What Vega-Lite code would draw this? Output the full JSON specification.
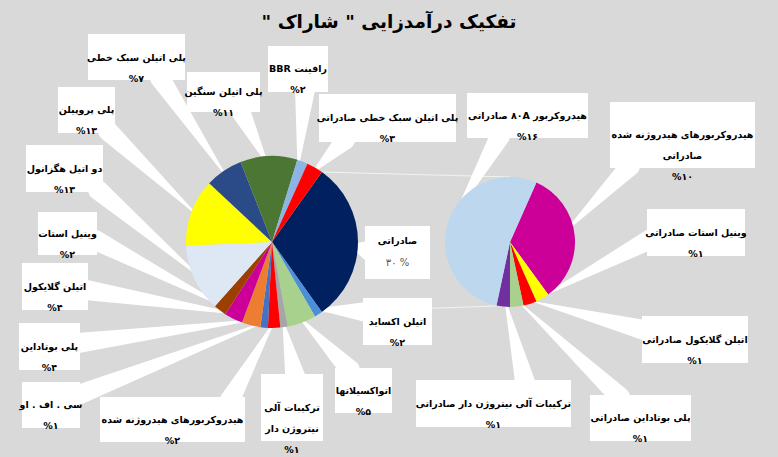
{
  "$schema": "https://vega.github.io/schema/vega-lite/v6.json",
  "width": 778,
  "height": 457,
  "padding": 0,
  "autosize": {"type": "none"},
  "background": "#d9d9d9",
  "config": {"view": {"stroke": null}},
  "title": {
    "text": "\u200fتفکیک درآمدزایی \" شاراک \"\u200f",
    "frame": "group",
    "anchor": "middle",
    "offset": -31,
    "font": "DejaVu Sans",
    "fontSize": 18.5,
    "fontWeight": "bold",
    "color": "#000000"
  },
  "datasets": {
    "left": [
      {"pie": "main", "o": 1, "name": "صادراتی", "share": 30.3},
      {"pie": "main", "o": 2, "name": "اتیلن اکساید", "share": 1.5},
      {"pie": "main", "o": 3, "name": "اتواکسیلاتها", "share": 5.4},
      {"pie": "main", "o": 4, "name": "ترکیبات آلی نیتروژن دار", "share": 1.4},
      {"pie": "main", "o": 5, "name": "هیدروکربورهای هیدروژنه شده", "share": 2.3},
      {"pie": "main", "o": 6, "name": "سی . اف . او", "share": 1.4},
      {"pie": "main", "o": 7, "name": "پلی بوتاداین", "share": 3.5},
      {"pie": "main", "o": 8, "name": "اتیلن گلایکول", "share": 3.5},
      {"pie": "main", "o": 9, "name": "وینیل استات", "share": 2.4},
      {"pie": "main", "o": 10, "name": "دو اتیل هگزانول", "share": 12.8},
      {"pie": "main", "o": 11, "name": "پلی پروپیلن", "share": 12.6},
      {"pie": "main", "o": 12, "name": "پلی اتیلن سبک خطی", "share": 7.1},
      {"pie": "main", "o": 13, "name": "پلی اتیلن سنگین", "share": 10.7},
      {"pie": "main", "o": 14, "name": "رافینت BBR", "share": 2.0},
      {"pie": "main", "o": 15, "name": "پلی اتیلن سبک خطی صادراتی", "share": 3.1}
    ],
    "right": [
      {"pie": "sub", "o": 1, "name": "هیدروکربورهای هیدروژنه شده صادراتی", "share": 10},
      {"pie": "sub", "o": 2, "name": "وینیل استات صادراتی", "share": 1},
      {"pie": "sub", "o": 3, "name": "اتیلن گلایکول صادراتی", "share": 1},
      {"pie": "sub", "o": 4, "name": "پلی بوتاداین صادراتی", "share": 1},
      {"pie": "sub", "o": 5, "name": "ترکیبات آلی نیتروژن دار صادراتی", "share": 1},
      {"pie": "sub", "o": 6, "name": "هیدروکربور ۸۰A صادراتی", "share": 16}
    ],
    "callouts": [
      {"id": "a", "lines": ["پلی اتیلن سبک خطی", "%۷"], "x1": 88, "x2": 185, "y1": 34, "y2": 80, "cx": 136.5, "cy": 58},
      {"id": "b", "lines": ["پلی اتیلن سنگین", "%۱۱"], "x1": 187, "x2": 260, "y1": 72, "y2": 112, "cx": 223.5, "cy": 92},
      {"id": "c", "lines": ["BBR رافینت", "%۲"], "x1": 268, "x2": 328, "y1": 46, "y2": 92, "cx": 298, "cy": 69},
      {"id": "d", "lines": ["پلی پروپیلن", "%۱۳"], "x1": 58, "x2": 115, "y1": 87, "y2": 133, "cx": 86.5, "cy": 110},
      {"id": "e", "lines": ["دو اتیل هگزانول", "%۱۳"], "x1": 26, "x2": 103, "y1": 145, "y2": 192, "cx": 64.5, "cy": 168.5},
      {"id": "f", "lines": ["پلی اتیلن سبک خطی صادراتی", "%۳"], "x1": 319, "x2": 456, "y1": 94, "y2": 142, "cx": 387.5, "cy": 118},
      {"id": "g", "lines": ["\u202bهیدروکربور ۸۰A صادراتی\u202c", "%۱۶"], "x1": 467, "x2": 588, "y1": 93, "y2": 138, "cx": 527.5, "cy": 115.5},
      {"id": "h", "lines": ["هیدروکربورهای هیدروژنه شده", "صادراتی", "%۱۰"], "x1": 610, "x2": 755, "y1": 102, "y2": 168, "cx": 682.5, "cy": 135},
      {"id": "i", "lines": ["وینیل استات", "%۲"], "x1": 38, "x2": 97, "y1": 212, "y2": 255, "cx": 67.5, "cy": 233.5},
      {"id": "j", "lines": ["اتیلن گلایکول", "%۴"], "x1": 22, "x2": 88, "y1": 263, "y2": 310, "cx": 55, "cy": 286.5},
      {"id": "k", "lines": ["پلی بوتاداین", "%۴"], "x1": 19, "x2": 80, "y1": 323, "y2": 370, "cx": 49.5, "cy": 346.5},
      {"id": "l", "lines": ["سی . اف . او", "%۱"], "x1": 22, "x2": 80, "y1": 382, "y2": 428, "cx": 51, "cy": 405},
      {"id": "m", "lines": ["هیدروکربورهای هیدروژنه شده", "%۲"], "x1": 100, "x2": 245, "y1": 397, "y2": 442, "cx": 172.5, "cy": 419.5},
      {"id": "n", "lines": ["ترکیبات آلی", "نیتروژن دار", "%۱"], "x1": 261, "x2": 323, "y1": 374, "y2": 441, "cx": 292, "cy": 407.5},
      {"id": "o", "lines": ["اتواکسیلاتها", "%۵"], "x1": 335, "x2": 392, "y1": 368, "y2": 413, "cx": 363.5, "cy": 390.5},
      {"id": "p", "lines": ["اتیلن اکساید", "%۲"], "x1": 363, "x2": 432, "y1": 298, "y2": 345, "cx": 397.5, "cy": 321.5},
      {"id": "q", "lines": ["صادراتی"], "sub": "۳۰ %", "x1": 365, "x2": 430, "y1": 226, "y2": 279, "cx": 397.5, "cy": 241},
      {"id": "r", "lines": ["وینیل استات صادراتی", "%۱"], "x1": 647, "x2": 745, "y1": 209, "y2": 256, "cx": 696, "cy": 232.5},
      {"id": "s", "lines": ["اتیلن گلایکول صادراتی", "%۱"], "x1": 642, "x2": 748, "y1": 316, "y2": 363, "cx": 695, "cy": 339.5},
      {"id": "t", "lines": ["ترکیبات آلی نیتروژن دار صادراتی", "%۱"], "x1": 416, "x2": 571, "y1": 380, "y2": 427, "cx": 493.5, "cy": 403.5},
      {"id": "u", "lines": ["پلی بوتاداین صادراتی", "%۱"], "x1": 590, "x2": 691, "y1": 395, "y2": 441, "cx": 640.5, "cy": 418}
    ],
    "wedges": [
      {"id": "a", "end": "base", "x": 160, "y": 78}, {"id": "a", "end": "tip", "x": 226, "y": 176},
      {"id": "b", "end": "base", "x": 240, "y": 110}, {"id": "b", "end": "tip", "x": 268, "y": 165},
      {"id": "c", "end": "base", "x": 305, "y": 90}, {"id": "c", "end": "tip", "x": 298, "y": 168},
      {"id": "d", "end": "base", "x": 108, "y": 131}, {"id": "d", "end": "tip", "x": 197, "y": 215},
      {"id": "e", "end": "base", "x": 98, "y": 190}, {"id": "e", "end": "tip", "x": 200, "y": 277},
      {"id": "f", "end": "base", "x": 345, "y": 140}, {"id": "f", "end": "tip", "x": 312, "y": 173},
      {"id": "g", "end": "base", "x": 500, "y": 136}, {"id": "g", "end": "tip", "x": 455, "y": 215},
      {"id": "h", "end": "base", "x": 630, "y": 166}, {"id": "h", "end": "tip", "x": 565, "y": 232},
      {"id": "i", "end": "base", "x": 95, "y": 240}, {"id": "i", "end": "tip", "x": 225, "y": 307},
      {"id": "j", "end": "base", "x": 86, "y": 290}, {"id": "j", "end": "tip", "x": 237, "y": 314},
      {"id": "k", "end": "base", "x": 78, "y": 343}, {"id": "k", "end": "tip", "x": 253, "y": 320},
      {"id": "l", "end": "base", "x": 78, "y": 395}, {"id": "l", "end": "tip", "x": 265, "y": 322},
      {"id": "m", "end": "base", "x": 230, "y": 400}, {"id": "m", "end": "tip", "x": 274, "y": 322},
      {"id": "n", "end": "base", "x": 295, "y": 376}, {"id": "n", "end": "tip", "x": 283, "y": 321},
      {"id": "o", "end": "base", "x": 350, "y": 370}, {"id": "o", "end": "tip", "x": 299, "y": 317},
      {"id": "p", "end": "base", "x": 366, "y": 312}, {"id": "p", "end": "tip", "x": 316, "y": 309},
      {"id": "q", "end": "base", "x": 367, "y": 250}, {"id": "q", "end": "tip", "x": 350, "y": 245},
      {"id": "r", "end": "base", "x": 649, "y": 240}, {"id": "r", "end": "tip", "x": 545, "y": 295},
      {"id": "s", "end": "base", "x": 644, "y": 330}, {"id": "s", "end": "tip", "x": 535, "y": 302},
      {"id": "t", "end": "base", "x": 525, "y": 382}, {"id": "t", "end": "tip", "x": 505, "y": 300},
      {"id": "u", "end": "base", "x": 620, "y": 397}, {"id": "u", "end": "tip", "x": 520, "y": 303}
    ],
    "links": [
      {"x": 322, "y": 172, "x2": 510, "y2": 177},
      {"x": 322, "y": 312, "x2": 497, "y2": 306}
    ]
  },
  "resolve": {"scale": {"x": "independent", "y": "independent", "theta": "independent", "color": "independent", "size": "independent"}},
  "layer": [
    {
      "data": {"name": "links"},
      "mark": {"type": "rule", "color": "#f2f2f2", "strokeWidth": 1.2},
      "encoding": {
        "x": {"field": "x", "type": "quantitative", "scale": {"domain": [0, 778], "range": [0, 778], "nice": false, "zero": false}, "axis": null},
        "y": {"field": "y", "type": "quantitative", "scale": {"domain": [0, 457], "range": [0, 457], "nice": false, "zero": false}, "axis": null},
        "x2": {"field": "x2"},
        "y2": {"field": "y2"}
      }
    },
    {
      "data": {"name": "wedges"},
      "mark": {"type": "trail", "color": "#ffffff"},
      "encoding": {
        "x": {"field": "x", "type": "quantitative", "scale": {"domain": [0, 778], "range": [0, 778], "nice": false, "zero": false}, "axis": null},
        "y": {"field": "y", "type": "quantitative", "scale": {"domain": [0, 457], "range": [0, 457], "nice": false, "zero": false}, "axis": null},
        "detail": {"field": "id", "type": "nominal"},
        "size": {"field": "end", "type": "ordinal", "scale": {"type": "ordinal", "domain": ["base", "tip"], "range": [20, 1]}, "legend": null}
      }
    },
    {
      "data": {"name": "left"},
      "mark": {"type": "arc", "radius": 86},
      "encoding": {
        "x": {"field": "pie", "type": "nominal", "scale": {"type": "point", "domain": ["main", "sub"], "range": [272, 510], "padding": 0}, "axis": null},
        "y": {"field": "pie", "type": "nominal", "scale": {"type": "point", "domain": ["main", "sub"], "range": [242, 242], "padding": 0}, "axis": null},
        "theta": {"field": "share", "type": "quantitative", "stack": true, "scale": {"domain": [0, 100], "range": [0.6196, 6.9028]}},
        "order": {"field": "o", "type": "quantitative"},
        "color": {
          "field": "name", "type": "nominal", "legend": null,
          "scale": {
            "domain": ["صادراتی", "اتیلن اکساید", "اتواکسیلاتها", "ترکیبات آلی نیتروژن دار", "هیدروکربورهای هیدروژنه شده", "سی . اف . او", "پلی بوتاداین", "اتیلن گلایکول", "وینیل استات", "دو اتیل هگزانول", "پلی پروپیلن", "پلی اتیلن سبک خطی", "پلی اتیلن سنگین", "رافینت BBR", "پلی اتیلن سبک خطی صادراتی"],
            "range": ["#002060", "#4a8fd8", "#a9d18e", "#a6a6a6", "#ff0000", "#4472c4", "#ed7d31", "#cc0099", "#9c3f00", "#dde8f4", "#ffff00", "#2b4a88", "#4b7634", "#8db4e2", "#ff0000"]
          }
        }
      }
    },
    {
      "data": {"name": "right"},
      "mark": {"type": "arc", "radius": 65},
      "encoding": {
        "x": {"field": "pie", "type": "nominal", "scale": {"type": "point", "domain": ["main", "sub"], "range": [272, 510], "padding": 0}, "axis": null},
        "y": {"field": "pie", "type": "nominal", "scale": {"type": "point", "domain": ["main", "sub"], "range": [242, 242], "padding": 0}, "axis": null},
        "theta": {"field": "share", "type": "quantitative", "stack": true, "scale": {"domain": [0, 30], "range": [0.4189, 6.7021]}},
        "order": {"field": "o", "type": "quantitative"},
        "color": {
          "field": "name", "type": "nominal", "legend": null,
          "scale": {
            "domain": ["هیدروکربورهای هیدروژنه شده صادراتی", "وینیل استات صادراتی", "اتیلن گلایکول صادراتی", "پلی بوتاداین صادراتی", "ترکیبات آلی نیتروژن دار صادراتی", "هیدروکربور ۸۰A صادراتی"],
            "range": ["#cc0099", "#ffff00", "#ff0000", "#a9d18e", "#7030a0", "#bdd7ee"]
          }
        }
      }
    },
    {
      "data": {"name": "callouts"},
      "mark": {"type": "rect", "color": "#ffffff"},
      "encoding": {
        "x": {"field": "x1", "type": "quantitative", "scale": {"domain": [0, 778], "range": [0, 778], "nice": false, "zero": false}, "axis": null},
        "x2": {"field": "x2"},
        "y": {"field": "y1", "type": "quantitative", "scale": {"domain": [0, 457], "range": [0, 457], "nice": false, "zero": false}, "axis": null},
        "y2": {"field": "y2"}
      }
    },
    {
      "data": {"name": "callouts"},
      "mark": {"type": "text", "font": "DejaVu Sans", "fontWeight": "bold", "fontSize": 9.5, "lineHeight": 21, "align": "center", "baseline": "middle", "color": "#000000"},
      "encoding": {
        "x": {"field": "cx", "type": "quantitative", "scale": {"domain": [0, 778], "range": [0, 778], "nice": false, "zero": false}, "axis": null},
        "y": {"field": "cy", "type": "quantitative", "scale": {"domain": [0, 457], "range": [0, 457], "nice": false, "zero": false}, "axis": null},
        "text": {"field": "lines", "type": "nominal"}
      }
    },
    {
      "data": {"name": "callouts"},
      "transform": [{"filter": "isValid(datum.sub)"}],
      "mark": {"type": "text", "font": "DejaVu Sans", "fontSize": 10, "align": "center", "baseline": "middle", "color": "#595959", "dy": 22},
      "encoding": {
        "x": {"field": "cx", "type": "quantitative", "scale": {"domain": [0, 778], "range": [0, 778], "nice": false, "zero": false}, "axis": null},
        "y": {"field": "cy", "type": "quantitative", "scale": {"domain": [0, 457], "range": [0, 457], "nice": false, "zero": false}, "axis": null},
        "text": {"field": "sub", "type": "nominal"}
      }
    }
  ]
}
